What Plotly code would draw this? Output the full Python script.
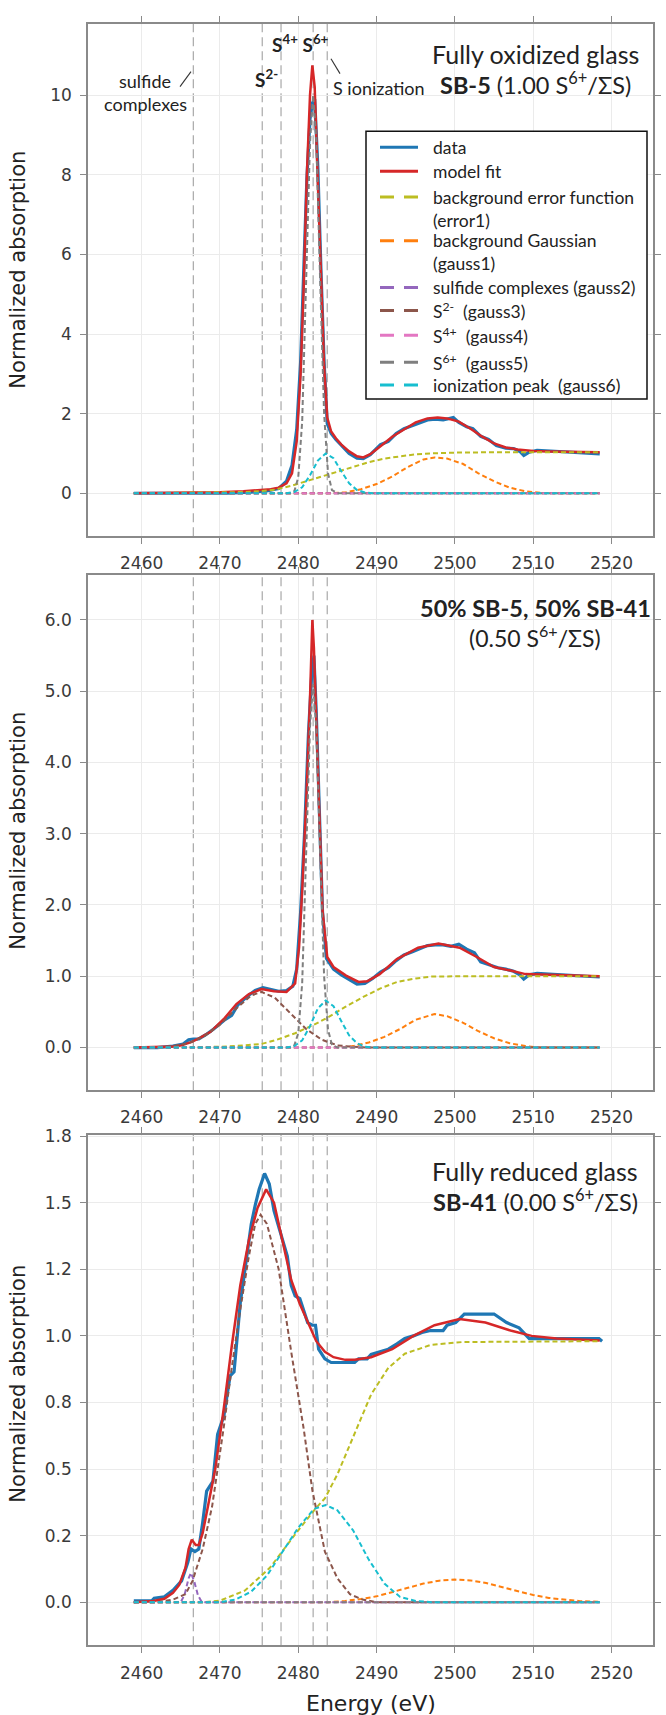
import plotly.graph_objects as go

# ---------------- data ----------------
XTICKS = [2460, 2470, 2480, 2490, 2500, 2510, 2520]
REF_LINES = [2466.6, 2475.4, 2477.8, 2481.9, 2483.7]   # sulfide, S2-, S4+, S6+, ionization

E_zero = [2459.0, 2518.5]
zero = [0.0, 0.0]

# ---- panel 1 : SB-5 fully oxidized ----
E_data_1 = [2459, 2462, 2465, 2468, 2471, 2474, 2476, 2477.5, 2478.5, 2479.2, 2479.8, 2480.3, 2480.7,
            2481.1, 2481.5, 2481.8, 2482.1, 2482.5, 2482.9, 2483.3, 2483.7, 2484.2, 2484.8, 2485.5,
            2486.5, 2487.5, 2488.3, 2489.2, 2490.5, 2491.5, 2492.5, 2493.5, 2494.5, 2495.5, 2496.5,
            2497.5, 2498.5, 2499.8, 2500.5, 2501.5, 2502.3, 2503.3, 2504.3, 2505.3, 2506.5, 2507.5,
            2508.3, 2508.8, 2509.5, 2510.5, 2511.5, 2513, 2515, 2517, 2518.5]
data_1 = [0.0, 0.0, 0.0, -0.01, 0.0, 0.03, 0.06, 0.12, 0.3, 0.7, 1.6, 3.3, 5.5,
          7.9, 9.4, 9.8, 9.9, 8.2, 5.6, 3.3, 1.75, 1.5, 1.35, 1.2,
          1.0, 0.88, 0.87, 0.97, 1.22, 1.3, 1.5, 1.62, 1.7, 1.78, 1.84,
          1.86, 1.84, 1.9, 1.78, 1.67, 1.62, 1.43, 1.35, 1.2, 1.13, 1.12,
          1.05, 0.95, 1.03, 1.08, 1.07, 1.04, 1.03, 1.02, 0.99]
E_fit_1 = [2459, 2463, 2467, 2470, 2473, 2475, 2476.5, 2477.5, 2478.5, 2479.2, 2479.8, 2480.3, 2480.7,
           2481.1, 2481.5, 2481.8, 2482.1, 2482.5, 2482.9, 2483.3, 2483.7, 2484.2, 2484.8, 2485.5,
           2486.5, 2487.5, 2488.3, 2489.2, 2490.5, 2492, 2493.5, 2495, 2496.5, 2497.8, 2499, 2500.5,
           2502, 2503.5, 2505, 2506.5, 2508, 2510, 2512, 2515, 2518.5]
fit_1 = [0.0, 0.005, 0.015, 0.025, 0.05, 0.07, 0.1, 0.14, 0.25, 0.5, 1.3, 3.0, 5.2,
         8.0, 10.0, 10.75, 10.2, 7.8, 5.2, 3.2, 1.9, 1.55, 1.38, 1.22,
         1.05, 0.93, 0.9, 0.98, 1.18, 1.42, 1.6, 1.78, 1.88, 1.9, 1.88, 1.8,
         1.62, 1.42, 1.25, 1.15, 1.1, 1.06, 1.05, 1.04, 1.03]
E_err_1 = [2459, 2465, 2470, 2473, 2475, 2477, 2479, 2481, 2483, 2485, 2487, 2489, 2491, 2493, 2495,
           2497, 2500, 2505, 2518.5]
err_1 = [0.0, 0.005, 0.015, 0.03, 0.05, 0.09, 0.18, 0.3, 0.42, 0.55, 0.67, 0.78, 0.87, 0.93, 0.98,
         1.0, 1.02, 1.03, 1.03]
E_g1_1 = [2459, 2484, 2486, 2488, 2490, 2492, 2494, 2496, 2497.4, 2499, 2501, 2503, 2505, 2507, 2509,
          2511, 2513, 2518.5]
g1_1 = [0.0, 0.0, 0.02, 0.1, 0.23, 0.42, 0.66, 0.85, 0.9, 0.87, 0.74, 0.5, 0.3, 0.14, 0.05, 0.01, 0.0, 0.0]
E_g5_1 = [2459, 2479, 2479.5, 2480, 2480.5, 2481, 2481.5, 2481.9, 2482.3, 2482.8, 2483.3, 2483.8,
          2484.3, 2485, 2518.5]
g5_1 = [0.0, 0.0, 0.05, 0.4, 1.8, 5.0, 8.8, 10.0, 8.9, 5.3, 2.0, 0.5, 0.08, 0.0, 0.0]
E_g6_1 = [2459, 2478.5, 2479.5, 2480.5, 2481.5, 2482.5, 2483.5, 2484.5, 2485.5, 2486.5, 2487.5,
          2488.5, 2489.5, 2518.5]
g6_1 = [0.0, 0.0, 0.03, 0.15, 0.45, 0.82, 1.0, 0.88, 0.55, 0.25, 0.08, 0.02, 0.0, 0.0]

# ---- panel 2 : 50% SB-5, 50% SB-41 ----
E_data_2 = [2459, 2462, 2464, 2465.3, 2466.0, 2466.6, 2467.3, 2468.2, 2469.2, 2470.5, 2471.5, 2472.3,
            2473.5, 2474.5, 2475.5, 2476.5, 2477.5, 2478.5, 2479.3, 2479.8, 2480.3, 2480.8, 2481.3,
            2481.7, 2482.0, 2482.3, 2482.7, 2483.1, 2483.6, 2484.5, 2485.5, 2486.5, 2487.5, 2488.5,
            2489.5, 2490.5, 2491.5, 2492.5, 2493.5, 2494.5, 2495.5, 2496.5, 2497.5, 2498.5, 2499.5,
            2500.5, 2501.5, 2502.5, 2503.3, 2504.5, 2505.5, 2506.5, 2507.5, 2508.3, 2508.8, 2509.5,
            2510.5, 2512, 2514, 2516, 2518.5]
data_2 = [0.0, 0.0, 0.02, 0.05, 0.11, 0.12, 0.12, 0.18, 0.26, 0.38, 0.45, 0.6,
          0.72, 0.8, 0.84, 0.82, 0.79, 0.8, 0.86, 1.1, 1.9, 3.0, 4.4,
          5.2, 5.5, 4.7, 3.2, 1.9, 1.25, 1.1, 1.02, 0.95, 0.89, 0.9,
          0.97, 1.06, 1.12, 1.22, 1.3, 1.34, 1.38, 1.43, 1.44, 1.44, 1.42,
          1.45, 1.38, 1.33, 1.2, 1.16, 1.12, 1.1, 1.07, 1.02, 0.96, 1.02,
          1.04, 1.03, 1.02, 1.01, 0.99]
E_fit_2 = [2459, 2462, 2464, 2465.1, 2466.4, 2467.5, 2468.8, 2470.5, 2472.1, 2473.7, 2475.3, 2476.9,
           2478.5, 2479.6, 2480.1, 2480.5, 2481, 2481.5, 2481.8, 2482.0, 2482.3, 2482.6, 2483.1,
           2483.7, 2484.5, 2486.1, 2487.7, 2488.8, 2490.4, 2492.6, 2495.3, 2497.9, 2500.6, 2502.8,
           2505, 2507.1, 2509, 2512, 2515, 2518.5]
fit_2 = [0.0, 0.005, 0.015, 0.03, 0.08, 0.14, 0.22, 0.4, 0.61, 0.75, 0.82, 0.79,
         0.78, 0.9, 1.4, 2.2, 3.4, 4.9, 6.0, 5.6, 4.6, 3.4, 1.92,
         1.27, 1.13, 1.01, 0.92, 0.93, 1.03, 1.24, 1.4, 1.46, 1.4, 1.27,
         1.13, 1.08, 1.03, 1.02, 1.01, 1.0]
E_err_2 = [2459, 2465, 2470, 2473, 2475.3, 2477, 2479.6, 2482, 2483.9, 2486, 2488.3, 2490.5, 2492.6,
           2495, 2497, 2500, 2518.5]
err_2 = [0.0, 0.003, 0.01, 0.03, 0.05, 0.1, 0.2, 0.32, 0.43, 0.57, 0.71, 0.83, 0.92, 0.97, 0.995,
         1.0, 1.0]
E_g1_2 = [2459, 2485, 2487, 2489, 2491, 2493, 2495, 2497.4, 2499, 2501, 2503, 2505, 2507, 2509, 2511,
          2518.5]
g1_2 = [0.0, 0.0, 0.02, 0.07, 0.15, 0.26, 0.39, 0.47, 0.44, 0.35, 0.23, 0.13, 0.06, 0.02, 0.0, 0.0]
E_g3_2 = [2459, 2462, 2464, 2466, 2468, 2470, 2472, 2474, 2475.3, 2477, 2479, 2481, 2483, 2485, 2487,
          2489, 2518.5]
g3_2 = [0.0, 0.0, 0.02, 0.06, 0.16, 0.32, 0.54, 0.73, 0.78, 0.7, 0.48, 0.26, 0.11, 0.03, 0.01, 0.0, 0.0]
E_g5_2 = [2459, 2479, 2479.5, 2480, 2480.5, 2481, 2481.5, 2481.9, 2482.3, 2482.8, 2483.3, 2483.8,
          2484.3, 2485, 2518.5]
g5_2 = [0.0, 0.0, 0.03, 0.2, 0.9, 2.6, 4.5, 5.1, 4.5, 2.7, 1.0, 0.25, 0.04, 0.0, 0.0]
E_g6_2 = [2459, 2478.5, 2479.5, 2480.5, 2481.5, 2482.5, 2483.5, 2484.5, 2485.5, 2486.5, 2487.5,
          2488.5, 2489.5, 2518.5]
g6_2 = [0.0, 0.0, 0.02, 0.1, 0.3, 0.55, 0.66, 0.58, 0.37, 0.17, 0.06, 0.01, 0.0, 0.0]

# ---- panel 3 : SB-41 fully reduced ----
E_data_3 = [2459, 2461.3, 2461.6, 2462.9, 2464, 2465.1, 2465.9, 2466.3, 2466.8, 2467.3, 2467.8, 2468.3,
            2469.1, 2469.7, 2470.5, 2471.3, 2471.8, 2472.1, 2472.6, 2473.2, 2474.0, 2474.5, 2475.0,
            2475.7, 2476.3, 2476.9, 2477.5, 2478.6, 2479.1, 2479.6, 2480.2, 2481.2, 2481.8, 2482.2,
            2482.6, 2483.4, 2484.2, 2487.2, 2487.7, 2488.8, 2489.3, 2490.4, 2491.5, 2492.6, 2493.6,
            2494.7, 2495.8, 2496.9, 2498.5, 2499, 2500.1, 2501.2, 2505, 2506.6, 2508.2, 2509.5,
            2518.4, 2518.8]
data_3 = [0.005, 0.005, 0.015, 0.02, 0.045, 0.08, 0.15, 0.2, 0.19, 0.2, 0.3, 0.417,
          0.454, 0.63, 0.7, 0.85, 0.865, 0.976, 1.125, 1.25, 1.42, 1.49, 1.55,
          1.61, 1.57, 1.47, 1.41, 1.3, 1.19, 1.15, 1.14, 1.05, 1.04, 1.04,
          0.95, 0.914, 0.9, 0.9, 0.914, 0.914, 0.93, 0.94, 0.95, 0.97, 0.99,
          1.0, 1.013, 1.02, 1.02, 1.04, 1.05, 1.082, 1.082, 1.05, 1.03, 0.99,
          0.99, 0.98]
E_fit_3 = [2459, 2461.5, 2462.9, 2464.0, 2464.8, 2465.6, 2466.0, 2466.4, 2466.9, 2467.3, 2467.8,
           2468.6, 2469.4, 2470.5, 2471.5, 2472.6, 2473.7, 2474.8, 2475.9, 2476.9, 2478.0, 2479.1,
           2480.2, 2481.2, 2482.3, 2483.4, 2484.5, 2486, 2487.2, 2489.3, 2492, 2494.7, 2497.4,
           2500.6, 2503.9, 2507.1, 2509.8, 2513, 2518.5]
fit_3 = [0.0, 0.005, 0.013, 0.035, 0.065, 0.13, 0.2, 0.235, 0.215, 0.215, 0.26,
         0.38, 0.5, 0.73, 0.96, 1.19, 1.36, 1.48, 1.55, 1.5, 1.36, 1.21,
         1.12, 1.05, 0.98, 0.94, 0.92, 0.91, 0.91, 0.92, 0.95, 1.0, 1.04,
         1.063, 1.05, 1.02, 1.0, 0.99, 0.983]
E_err_3 = [2459, 2468, 2470, 2473.2, 2476.4, 2479.6, 2482.3, 2483.4, 2485, 2487.2, 2489.3, 2491.5,
           2493.6, 2496.9, 2501, 2518.5]
err_3 = [0.0, 0.0, 0.006, 0.044, 0.13, 0.255, 0.355, 0.39, 0.48, 0.63, 0.78, 0.88,
         0.933, 0.966, 0.977, 0.98]
E_g1_3 = [2459, 2484, 2486, 2488, 2490, 2492, 2494, 2496, 2498, 2500, 2502, 2504, 2506, 2508, 2510,
          2512, 2514, 2516, 2518.5]
g1_3 = [0.0, 0.0, 0.005, 0.012, 0.022, 0.037, 0.054, 0.07, 0.081, 0.085, 0.082, 0.072, 0.057, 0.041,
        0.027, 0.016, 0.009, 0.004, 0.002]
E_g2_3 = [2459, 2465, 2465.5, 2466.0, 2466.3, 2466.7, 2467.2, 2467.7, 2518.5]
g2_3 = [0.0, 0.0, 0.03, 0.09, 0.11, 0.08, 0.025, 0.0, 0.0]
E_g3_3 = [2459, 2462, 2464, 2465.6, 2466.5, 2467.8, 2469, 2470.5, 2471.5, 2472.6, 2473.7, 2474.5,
          2475.2, 2476, 2477.5, 2479.1, 2480.7, 2481.8, 2483.4, 2485, 2486.6, 2488.2, 2490, 2518.5]
g3_3 = [0.0, 0.0, 0.01, 0.03, 0.08, 0.2, 0.36, 0.66, 0.88, 1.1, 1.3, 1.42,
        1.455, 1.42, 1.25, 0.94, 0.65, 0.42, 0.19, 0.09, 0.03, 0.01, 0.0, 0.0]
E_g6_3 = [2459, 2470, 2472, 2474, 2476, 2478, 2480, 2482, 2483.5, 2485, 2487, 2489, 2491, 2493, 2495,
          2497, 2518.5]
g6_3 = [0.0, 0.0, 0.01, 0.04, 0.1, 0.19, 0.28, 0.35, 0.365, 0.345, 0.27, 0.16, 0.07, 0.02, 0.005,
        0.0, 0.0]

# y ticks
YT1 = [0, 2, 4, 6, 8, 10]
YT1_TXT = ["0", "2", "4", "6", "8", "10"]
YT2 = [0, 1, 2, 3, 4, 5, 6]
YT2_TXT = ["0.0", "1.0", "2.0", "3.0", "4.0", "5.0", "6.0"]
YT3 = [0, 0.25, 0.5, 0.75, 1.0, 1.25, 1.5, 1.75]
YT3_TXT = ["0.0", "0.2", "0.5", "0.8", "1.0", "1.2", "1.5", "1.8"]

LEGEND_NAMES = ["data", "model fit", "background error function (error1)", "background Gaussian (gauss1)",
                "sulfide complexes (gauss2)", "S2- (gauss3)", "S4+ (gauss4)", "S6+ (gauss5)",
                "ionization peak (gauss6)"]

# ---------------- style / layout ----------------
W, H = 666, 1715
C = dict(data="#1f77b4", fit="#d62728", err="#bcbd22", g1="#ff7f0e", g2="#9467bd",
         g3="#8c564b", g4="#e377c2", g5="#7f7f7f", g6="#17becf")
AX = "#8a8a8a"
GRID = "#ebebeb"
TXT = "#222222"
ANN_FONT = "Lato"


def fx(p):
    return p / W


def fy(p):
    return 1 - p / H


PX_L, PX_R = 88, 653
PANELS = [(15, 530), (569, 1087), (1132, 1645)]
XRANGE = [2453.15, 2525.3]
YRANGES = [[-1.08, 11.79], [-0.6, 6.63], [-0.162, 1.754]]
YTICKS = [(YT1, YT1_TXT), (YT2, YT2_TXT), (YT3, YT3_TXT)]

fig = go.Figure()

panel_sets = [
    dict(data=(E_data_1, data_1), fit=(E_fit_1, fit_1), err=(E_err_1, err_1), g1=(E_g1_1, g1_1),
         g2=(E_zero, zero), g3=(E_zero, zero), g4=(E_zero, zero), g5=(E_g5_1, g5_1), g6=(E_g6_1, g6_1)),
    dict(data=(E_data_2, data_2), fit=(E_fit_2, fit_2), err=(E_err_2, err_2), g1=(E_g1_2, g1_2),
         g2=(E_zero, zero), g3=(E_g3_2, g3_2), g4=(E_zero, zero), g5=(E_g5_2, g5_2), g6=(E_g6_2, g6_2)),
    dict(data=(E_data_3, data_3), fit=(E_fit_3, fit_3), err=(E_err_3, err_3), g1=(E_g1_3, g1_3),
         g2=(E_g2_3, g2_3), g3=(E_g3_3, g3_3), g4=(E_zero, zero), g5=(E_zero, zero), g6=(E_g6_3, g6_3)),
]
keys = ["data", "fit", "err", "g1", "g2", "g3", "g4", "g5", "g6"]

for i, ps in enumerate(panel_sets):
    xa = "x" if i == 0 else f"x{i+1}"
    ya = "y" if i == 0 else f"y{i+1}"
    for k, name in zip(keys, LEGEND_NAMES):
        ex, vy = ps[k]
        if k == "data":
            line = dict(color=C[k], width=3.2)
        elif k == "fit":
            line = dict(color=C[k], width=2.5)
        else:
            line = dict(color=C[k], width=2, dash="5px,3px")
        fig.add_trace(go.Scatter(x=ex, y=vy, mode="lines", line=line, name=name,
                                 showlegend=False, xaxis=xa, yaxis=ya, hoverinfo="skip"))

tickfont = dict(family="DejaVu Sans", size=17, color="#3a3a3a")
for i, (top, bot) in enumerate(PANELS):
    sfx = "" if i == 0 else str(i + 1)
    fig.layout["xaxis" + sfx] = dict(
        domain=[fx(PX_L), fx(PX_R)], range=XRANGE, anchor="y" + sfx,
        tickvals=XTICKS, ticktext=[str(t) for t in XTICKS],
        showgrid=True, gridcolor=GRID, gridwidth=1, zeroline=False,
        showline=True, linecolor=AX, linewidth=1.6, mirror="ticks",
        ticks="outside", ticklen=6, tickwidth=1.3, tickcolor=AX,
        tickfont=tickfont, ticklabelstandoff=5)
    tv, tt = YTICKS[i]
    fig.layout["yaxis" + sfx] = dict(
        domain=[fy(bot), fy(top)], range=YRANGES[i], anchor="x" + sfx,
        tickvals=tv, ticktext=tt,
        showgrid=True, gridcolor=GRID, gridwidth=1, zeroline=False,
        showline=True, linecolor=AX, linewidth=1.6, mirror="ticks",
        ticks="outside", ticklen=6, tickwidth=1.3, tickcolor=AX,
        tickfont=tickfont, ticklabelstandoff=5)

shapes = []
# vertical dashed reference lines
for i in range(3):
    sfx = "" if i == 0 else str(i + 1)
    for e in REF_LINES:
        shapes.append(dict(type="line", xref="x" + sfx, yref="y" + sfx, x0=e, x1=e,
                           y0=YRANGES[i][0], y1=YRANGES[i][1],
                           line=dict(color="#a8a8a8", width=1.2, dash="9px,5px"), layer="below"))

# leader lines of the panel-1 labels
for (x0, y0, x1, y1) in [(180, 78, 191, 63), (331, 50, 340, 65)]:
    shapes.append(dict(type="line", xref="paper", yref="paper", x0=fx(x0), y0=fy(y0), x1=fx(x1), y1=fy(y1),
                       line=dict(color="#333333", width=1.1), layer="above"))

# legend box
LEG = dict(x0=366, y0=123, x1=647, y1=392)
shapes.append(dict(type="rect", xref="paper", yref="paper", x0=fx(LEG["x0"]), x1=fx(LEG["x1"]),
                   y0=fy(LEG["y1"]), y1=fy(LEG["y0"]), line=dict(color="#111111", width=1.5),
                   fillcolor="white", layer="above"))
leg_rows = [("data", 139), ("fit", 163), ("err", 189), ("g1", 233), ("g2", 280), ("g3", 303),
            ("g4", 328), ("g5", 355), ("g6", 378)]
for k, yy in leg_rows:
    ln = dict(color=C[k], width=3)
    if k not in ("data", "fit"):
        ln["dash"] = "14px,10px"
    shapes.append(dict(type="line", xref="paper", yref="paper", x0=fx(380), x1=fx(418), y0=fy(yy), y1=fy(yy),
                       line=ln, layer="above"))
fig.update_layout(shapes=shapes)

NB = "\u00a0"
leg_texts = [("data", 139), ("model fit", 163), ("background error function", 189), ("(error1)", 213),
             ("background Gaussian", 233), ("(gauss1)", 256), ("sulfide complexes (gauss2)", 280),
             (f"S<sup>2-</sup>{NB}{NB}(gauss3)", 303), (f"S<sup>4+</sup>{NB}{NB}(gauss4)", 328),
             (f"S<sup>6+</sup>{NB}{NB}(gauss5)", 355), (f"ionization peak{NB}{NB}(gauss6)", 378)]
ann = []
for t, yy in leg_texts:
    ann.append(dict(text=t, x=fx(431), y=fy(yy), xref="paper", yref="paper", xanchor="left",
                    yanchor="middle", showarrow=False, font=dict(family=ANN_FONT, size=17.5, color=TXT)))


def label(text, x, y, size, anchor="center"):
    ann.append(dict(text=text, x=fx(x), y=fy(y), xref="paper", yref="paper", xanchor=anchor,
                    yanchor="middle", showarrow=False, font=dict(family=ANN_FONT, size=size, color=TXT)))


TITLE_X = 535
label("sulfide", 145, 72, 18)
label("complexes", 145, 96, 18)
label("<b>S<sup>2-</sup></b>", 266, 70, 19)
label("<b>S<sup>4+</sup> S<sup>6+</sup></b>", 300, 35, 19)
label("S ionization", 331, 79, 18, anchor="left")
label("Fully oxidized glass", TITLE_X, 45.5, 25)
label("<b>SB-5</b> (1.00 S<sup>6+</sup>/ΣS)", TITLE_X, 75, 23.5)
label("<b>50% SB-5, 50% SB-41</b>", TITLE_X, 602, 23.5)
label("(0.50 S<sup>6+</sup>/ΣS)", TITLE_X, 631, 23)
label("Fully reduced glass", TITLE_X, 1168, 25)
label("<b>SB-41</b> (0.00 S<sup>6+</sup>/ΣS)", TITLE_X, 1198, 23.5)

# axis titles
for yc in [262, 826, 1382]:
    ann.append(dict(text="Normalized absorption", x=fx(18), y=fy(yc), xref="paper", yref="paper",
                    xanchor="center", yanchor="middle", textangle=-90, showarrow=False,
                    font=dict(family="DejaVu Sans", size=21, color=TXT)))
ann.append(dict(text="Energy (eV)", x=fx(371), y=fy(1703), xref="paper", yref="paper", xanchor="center",
                yanchor="middle", showarrow=False, font=dict(family="DejaVu Sans", size=22, color=TXT)))

fig.update_layout(annotations=ann, width=W, height=H, margin=dict(l=0, r=0, t=0, b=0),
                  paper_bgcolor="white", plot_bgcolor="white", showlegend=False)

fig.write_html("out.html")
